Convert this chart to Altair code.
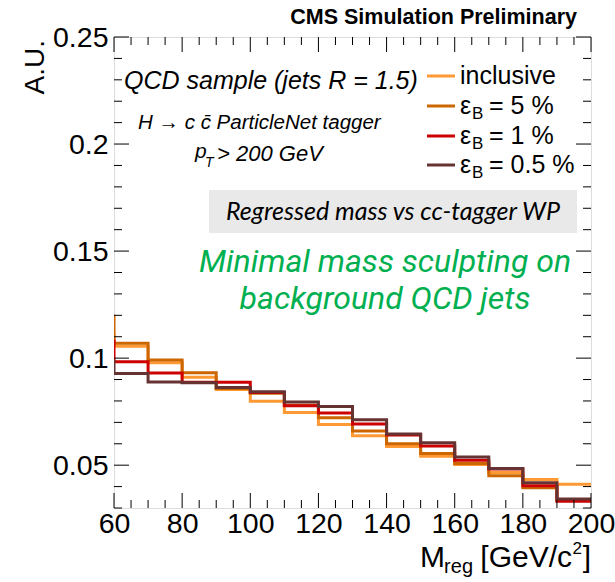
import altair as alt
import pandas as pd

# ---------------- data ----------------
bin_edges = [50, 60, 70, 80, 90, 100, 110, 120, 130, 140, 150, 160, 170, 180, 190, 200]
series_names = ["inclusive", "eff5", "eff1", "eff05"]
series_colors = ["#FF9933", "#CC6600", "#CC0000", "#663333"]

inclusive = [0.1110, 0.1055, 0.0978, 0.0911, 0.0854, 0.0799, 0.0746, 0.0690, 0.0638,
             0.0587, 0.0542, 0.0503, 0.0466, 0.0433, 0.0411]
eff5 = [0.1196, 0.1069, 0.0991, 0.0932, 0.0858, 0.0836, 0.0780, 0.0722, 0.0660,
        0.0600, 0.0555, 0.0508, 0.0451, 0.0395, 0.0335]
eff1 = [0.1080, 0.0983, 0.0930, 0.0887, 0.0887, 0.0840, 0.0778, 0.0744, 0.0692,
        0.0641, 0.0590, 0.0523, 0.0482, 0.0404, 0.0332]
eff05 = [0.0986, 0.0928, 0.0889, 0.0885, 0.0863, 0.0843, 0.0795, 0.0774, 0.0712,
         0.0646, 0.0605, 0.0538, 0.0485, 0.0418, 0.0342]

x_major = [60, 80, 100, 120, 140, 160, 180, 200]
x_minor = [v for v in range(60, 201, 5) if v not in x_major]
y_major = [0.05, 0.10, 0.15, 0.20, 0.25]
y_minor = [0.03, 0.04, 0.06, 0.07, 0.08, 0.09, 0.11, 0.12, 0.13, 0.14,
           0.16, 0.17, 0.18, 0.19, 0.21, 0.22, 0.23, 0.24]

W, H = 477, 471
XDOM = [60, 200]
YDOM = [0.03, 0.25]
xs = alt.Scale(domain=XDOM, nice=False, zero=False)
ys = alt.Scale(domain=YDOM, nice=False, zero=False)

LAB = "Liberation Sans"
x_axis = alt.Axis(values=x_major, labelFontSize=28.5, labelFont=LAB, ticks=False,
                  domain=False, grid=False, labelPadding=1, title=None,
                  labelColor="black", labelFlush=False)
y_axis = alt.Axis(values=y_major, format=".2~f", labelFontSize=28.5, labelFont=LAB,
                  ticks=False, domain=False, grid=False, labelPadding=6, title=None,
                  labelColor="black", labelFlush=False)

rows = []
for name, vals in zip(series_names, [inclusive, eff5, eff1, eff05]):
    for e, v in zip(bin_edges[:-1], vals):
        rows.append({"series": name, "m": e, "v": v})
    rows.append({"series": name, "m": bin_edges[-1], "v": vals[-1]})
df = pd.DataFrame(rows)

layers = []

# histogram lines, drawn in order
for name, col in zip(series_names, series_colors):
    layers.append(
        alt.Chart(df).transform_filter(alt.datum.series == name)
        .mark_line(interpolate="step-after", clip=True, strokeWidth=3, color=col)
        .encode(x=alt.X("m:Q", scale=xs, axis=x_axis), y=alt.Y("v:Q", scale=ys, axis=y_axis))
    )

# inward ticks
def xticks(vals, length):
    d = pd.DataFrame({"t": vals})
    bot = alt.Chart(d).mark_rule(color="black", strokeWidth=1).encode(
        x=alt.X("t:Q", scale=xs, axis=x_axis), y=alt.value(H), y2=alt.value(H - length))
    top = alt.Chart(d).mark_rule(color="black", strokeWidth=1).encode(
        x=alt.X("t:Q", scale=xs, axis=x_axis), y=alt.value(0), y2=alt.value(length))
    return [bot, top]

def yticks(vals, length):
    d = pd.DataFrame({"t": vals})
    left = alt.Chart(d).mark_rule(color="black", strokeWidth=1).encode(
        y=alt.Y("t:Q", scale=ys, axis=y_axis), x=alt.value(0), x2=alt.value(length))
    right = alt.Chart(d).mark_rule(color="black", strokeWidth=1).encode(
        y=alt.Y("t:Q", scale=ys, axis=y_axis), x=alt.value(W), x2=alt.value(W - length))
    return [left, right]

layers += xticks(x_major, 15) + xticks(x_minor, 8) + yticks(y_major, 15) + yticks(y_minor, 8)

one = pd.DataFrame({"a": [0]})

def txt(s, x, y, size, font=LAB, style="normal", weight="normal", color="black",
        align="left", baseline="middle", angle=0):
    kw = dict(text=s, fontSize=size, font=font, fontStyle=style, fontWeight=weight,
              color=color, align=align, baseline=baseline)
    if angle:
        kw["angle"] = angle
    return alt.Chart(one).mark_text(**kw).encode(x=alt.value(x), y=alt.value(y))

OX, OY = 114, 37  # plot origin in page pixels

def T(s, ax, ay, size, **kw):
    return txt(s, ax - OX, ay - OY, size, **kw)

# gray box
layers.append(alt.Chart(one).mark_rect(color="#e9e9e9").encode(
    x=alt.value(209 - OX), x2=alt.value(577 - OX), y=alt.value(190 - OY), y2=alt.value(233 - OY)))

layers += [
    T("CMS Simulation Preliminary", 577, 18, 21.5, weight="bold", align="right"),
    T("A.U.", 36, 40, 28, align="right", angle=270),
    T("QCD sample (jets R = 1.5)", 124, 81, 25, style="italic"),
    T("H \u2192 c c\u0304 ParticleNet tagger", 138, 123, 20.5, style="italic"),
    T("p", 195, 152, 21, style="italic"),
    T("T", 205, 163, 14, style="italic"),
    T("> 200 GeV", 217, 154, 22, style="italic"),
    T("Regressed mass vs cc-tagger WP", 393, 212, 25, font="Lato", style="italic", align="center"),
    T("Minimal mass sculpting on", 385, 262, 32, font="Roboto", style="italic",
      color="#00B050", align="center"),
    T("background QCD jets", 385, 299, 32, font="Roboto", style="italic",
      color="#00B050", align="center"),
    # x title (right-anchored pieces)
    T("]", 591, 558, 30, align="right"),
    T("2", 582, 549, 17, align="right"),
    T("[GeV/c", 572, 558, 30, align="right"),
    T("reg", 473, 567, 20, align="right"),
    T("M", 445, 558, 30, align="right"),
]

# legend
leg_labels = [("inclusive", None), ("\u03b5", "= 5 %"), ("\u03b5", "= 1 %"), ("\u03b5", "= 0.5 %")]
leg_y = [76, 106, 136, 165]
for (lab, rest), yy, col in zip(leg_labels, leg_y, series_colors):
    layers.append(alt.Chart(one).mark_rule(color=col, strokeWidth=3).encode(
        x=alt.value(427 - OX), x2=alt.value(455 - OX), y=alt.value(yy - OY)))
    layers.append(T(lab, 460, yy, 25))
    if rest:
        layers.append(T("B", 472, yy + 8, 17))
        layers.append(T(rest, 489, yy, 25))

chart = alt.layer(*layers).properties(
    width=W, height=H,
    autosize=alt.AutoSizeParams(type="none"),
    padding={"left": OX, "top": OY, "right": 615 - OX - W, "bottom": 582 - OY - H},
).configure_view(stroke="#222", strokeWidth=1.5).configure(background="white")

chart.save("out.html", embed_options={"renderer": "svg", "actions": False})
